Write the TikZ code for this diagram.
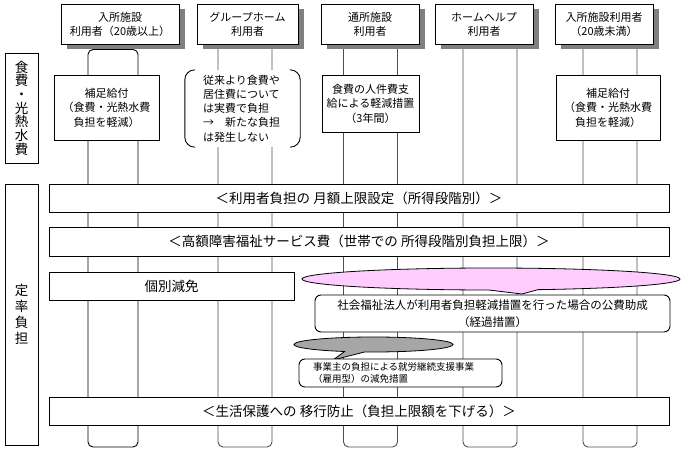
\documentclass[tikz,border=0pt]{standalone}
\usepackage{fontspec}
\setmainfont{Noto Sans CJK JP}
\usetikzlibrary{shapes.callouts,shadows}
\definecolor{shadowgray}{HTML}{808080}
\definecolor{colline}{HTML}{505050}
\definecolor{pinkfill}{HTML}{FFCCFF}
\definecolor{calloutgray}{HTML}{A6A6A6}
\begin{document}
\begin{tikzpicture}[x=1pt,y=-1pt,
  column/.style={draw=colline, line width=0.9pt, rounded corners=5pt},
  hdrbox/.style={draw, fill=white, line width=0.9pt, inner sep=0pt, minimum height=40pt,
    align=center, font=\fontsize{11}{14}\selectfont,
    drop shadow={shadow xshift=6pt, shadow yshift=-5.5pt, fill=shadowgray, opacity=1}},
  rowbox/.style={draw, fill=white, line width=0.9pt, inner sep=0pt, align=center,
    font=\fontsize{11}{14.5}\selectfont},
  bracketbox/.style={fill=white, inner ysep=0pt, align=left, font=\fontsize{11}{14.2}\selectfont},
  bracketline/.style={draw, line width=0.9pt, rounded corners=10pt},
  bar/.style={draw, fill=white, line width=0.9pt, inner sep=0pt, minimum height=28pt,
    font=\fontsize{13.5}{16}\selectfont},
  sidebox/.style={draw, fill=white, line width=0.9pt, inner sep=0pt, minimum width=33pt, align=center},
  roundbox/.style={draw, fill=white, line width=0.9pt, rounded corners=6pt, inner sep=0pt, align=center},
  bubble/.style={ellipse callout, draw, line width=0.8pt, inner sep=0pt}
]
\useasboundingbox (0,0) rectangle (686,452);

% column lanes
\draw[column, draw=black] (88,49.5) rectangle (138,447);
\draw[column] (218,40) rectangle (272,447);
\draw[column] (343.5,40) rectangle (397.5,447);
\draw[column] (463,40) rectangle (517,447);
\draw[column] (583,40) rectangle (637,447);

% headers
\node[hdrbox, minimum width=118pt] (h1) at (120,24) {入所施設\\利用者（20歳以上）};
\node[hdrbox, minimum width=101pt] (h2) at (247.5,24) {グループホーム\\利用者};
\node[hdrbox, minimum width=98pt] (h3) at (370,24) {通所施設\\利用者};
\node[hdrbox, minimum width=98pt] (h4) at (484,24) {ホームヘルプ\\利用者};
\node[hdrbox, minimum width=98pt] (h5) at (604,24) {入所施設利用者\\（20歳未満）};

% side labels
\node[sidebox, minimum height=110pt, font=\fontsize{13.5}{13.7}\selectfont] (s1) at (21.5,108)
  {食\\費\\・\\光\\熱\\水\\費};
\node[sidebox, minimum height=261pt, font=\fontsize{13.5}{16}\selectfont] (s2) at (21.5,314.5)
  {定\\率\\負\\担};

% second row
\node[rowbox, minimum width=105pt, minimum height=65pt] (r1) at (106.5,107.5)
  {補足給付\\（食費・光熱水費\\負担を軽減）};
\node[bracketbox, text width=79pt, inner xsep=18pt, minimum height=77pt] (r2) at (242.5,108.5)
  {従来より食費や\\居住費について\\は実費で負担\\→　新たな負担\\は発生しない};
\draw[bracketline] ([xshift=10pt]r2.north west) -- (r2.north west) -- (r2.south west) -- ([xshift=10pt]r2.south west);
\draw[bracketline] ([xshift=-10pt]r2.north east) -- (r2.north east) -- (r2.south east) -- ([xshift=-10pt]r2.south east);
\node[rowbox, minimum width=97pt, minimum height=57pt] (r3) at (370.5,103.5)
  {食費の人件費支\\給による軽減措置\\（3年間）};
\node[rowbox, minimum width=104pt, minimum height=65pt] (r5) at (608,107.5)
  {補足給付\\（食費・光熱水費\\負担を軽減）};

% bars
\node[bar, minimum width=620pt] (b1) at (359,198) {＜利用者負担の 月額上限設定（所得段階別）＞};
\node[bar, minimum width=620pt, minimum height=29pt] (b2) at (359,241.5) {＜高額障害福祉サービス費（世帯での 所得段階別負担上限）＞};
\node[bar, minimum width=245pt] (b3) at (171.5,286) {個別減免};
\node[bar, minimum width=620pt] (b4) at (359,411) {＜生活保護への 移行防止（負担上限額を下げる）＞};

% pink callout
\node[bubble, fill=pinkfill, minimum width=378pt, minimum height=22pt,
  callout absolute pointer={(522,294)}] (pc) at (491,279) {};
\node[roundbox, minimum width=355pt, minimum height=37pt, font=\fontsize{11.5}{16.5}\selectfont] (pb) at (492.5,313.5)
  {社会福祉法人が利用者負担軽減措置を行った場合の公費助成\\（経過措置）};

% gray callout
\node[bubble, fill=calloutgray, minimum width=159pt, minimum height=15pt,
  callout absolute pointer={(333,360)}] (gc) at (373.5,344.5) {};
\node[roundbox, minimum height=28pt, text width=175pt, inner xsep=14pt, align=left,
  font=\fontsize{9.5}{12}\selectfont] (gb) at (400.5,373)
  {事業主の負担による就労継続支援事業\\（雇用型）の減免措置};
\end{tikzpicture}
\end{document}
